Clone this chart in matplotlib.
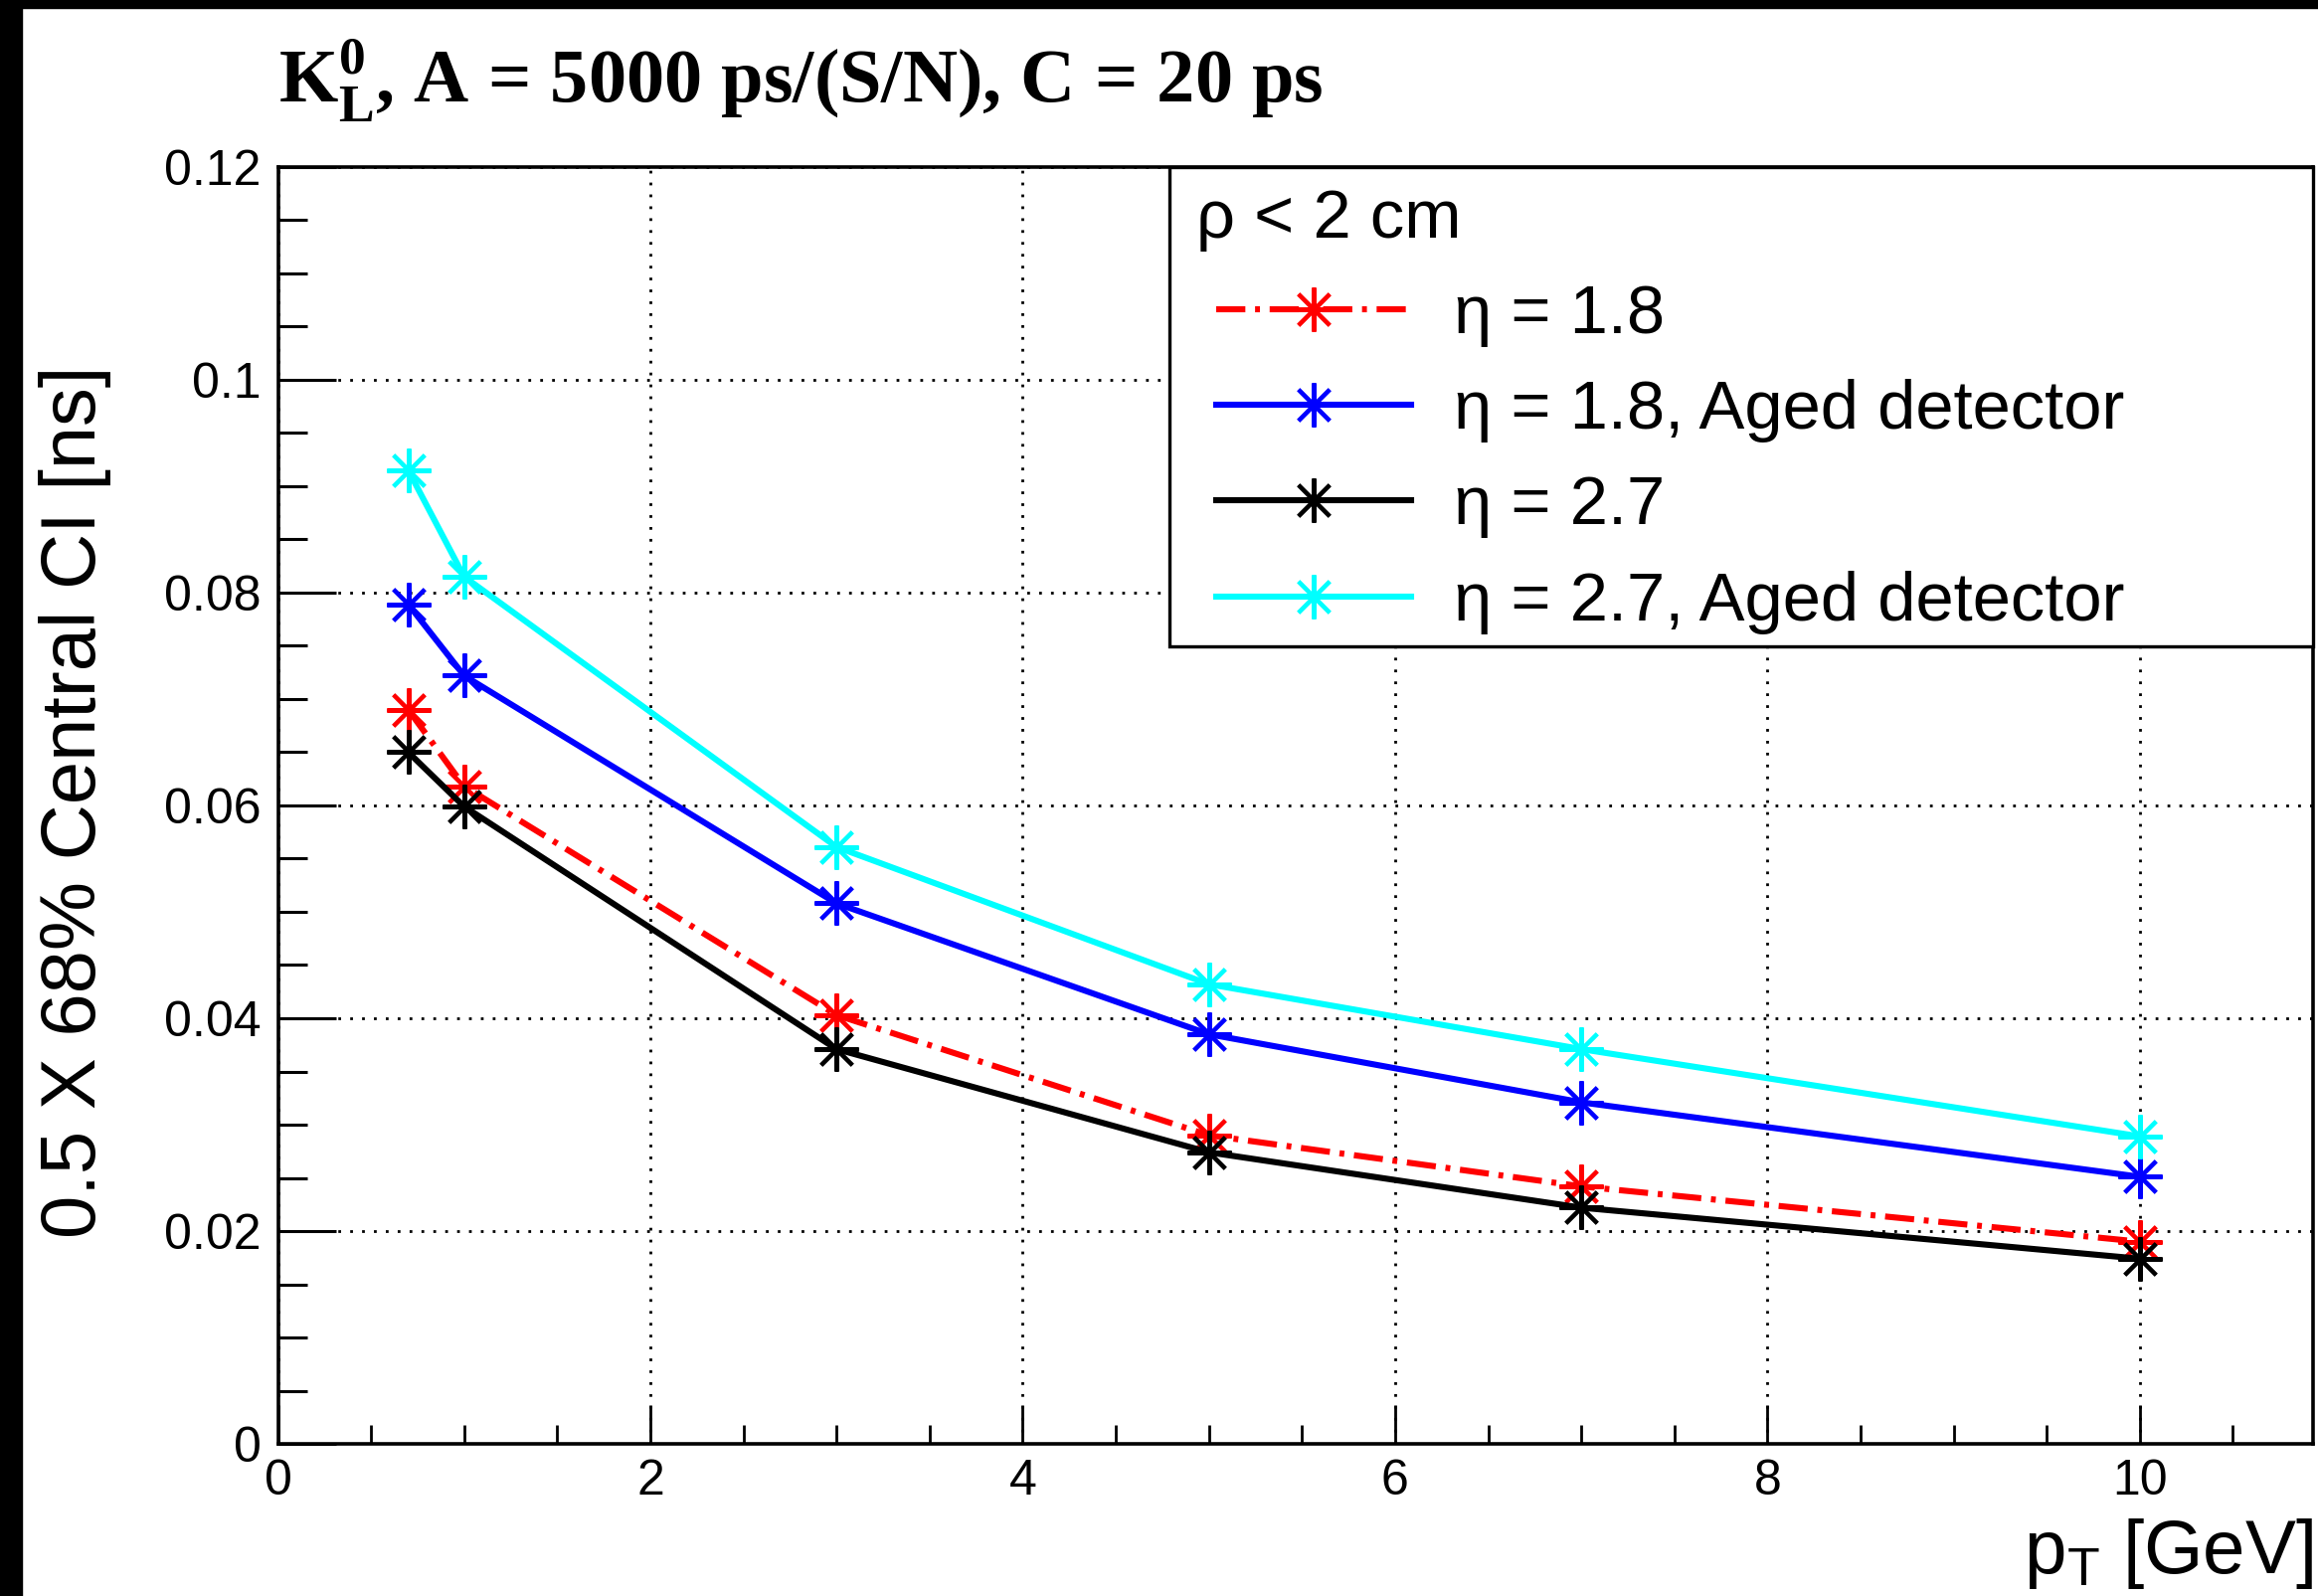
import matplotlib
matplotlib.use("Agg")
import matplotlib.pyplot as plt
from matplotlib.patches import Rectangle
from matplotlib.ticker import MultipleLocator

plt.rcParams['font.family'] = ['Liberation Sans', 'DejaVu Sans']
plt.rcParams['mathtext.fontset'] = 'custom'
plt.rcParams['mathtext.rm'] = 'Liberation Sans'
plt.rcParams['mathtext.it'] = 'Liberation Sans'
plt.rcParams['mathtext.bf'] = 'Liberation Serif:bold'

# data
pt = [0.7, 1, 3, 5, 7, 10]
eta18 = [0.0690, 0.0618, 0.0403, 0.0290, 0.0242, 0.0190]
eta18_aged = [0.0789, 0.0722, 0.0508, 0.0385, 0.0321, 0.0251]
eta27 = [0.0650, 0.0599, 0.0371, 0.0274, 0.0222, 0.0174]
eta27_aged = [0.0915, 0.0815, 0.0561, 0.0432, 0.0371, 0.0289]
labels = ["η = 1.8", "η = 1.8, Aged detector", "η = 2.7", "η = 2.7, Aged detector"]
colors = ["#ff0000", "#0000ff", "#000000", "#00ffff"]
ytick_vals = [0, 0.02, 0.04, 0.06, 0.08, 0.1, 0.12]
ytick_labels = ["0", "0.02", "0.04", "0.06", "0.08", "0.1", "0.12"]
xtick_vals = [0, 2, 4, 6, 8, 10]

W, H = 2331, 1605
fig = plt.figure(figsize=(W / 100, H / 100), dpi=100)
ax = fig.add_axes([279.5 / W, 153 / H, 2046.5 / W, 1284 / H])

mk = (8, 2, 0)
series = [eta18, eta18_aged, eta27, eta27_aged]
styles = [(0, (4.8, 1.6, 0.8, 1.6)), '-', '-', '-']
handles = []
for y, c, ls, lab in zip(series, colors, styles, labels):
    h, = ax.plot(pt, y, color=c, ls=ls, lw=4.4, marker=mk, ms=32, mew=2.9,
                 mec=c, label=lab, zorder=3)
    handles.append(h)

ax.set_xlim(0, 10.93)
ax.set_ylim(0, 0.12)
ax.set_xticks(xtick_vals)
ax.set_xticklabels([str(v) for v in xtick_vals])
ax.xaxis.set_minor_locator(MultipleLocator(0.5))
ax.set_yticks(ytick_vals)
ax.set_yticklabels(ytick_labels)
ax.yaxis.set_minor_locator(MultipleLocator(0.005))

ax.tick_params(axis='both', which='both', direction='in', labelsize=36)
ax.tick_params(axis='y', which='major', length=42, width=2.2, pad=12)
ax.tick_params(axis='y', which='minor', length=21, width=2.2)
ax.tick_params(axis='x', which='major', length=28, width=2.0, pad=11)
ax.tick_params(axis='x', which='minor', length=14, width=2.0)

for s in ax.spines.values():
    s.set_linewidth(2.6)

ax.grid(True, which='major', color='black', lw=2.0, ls=(0, (1, 3.3)))
ax.set_axisbelow(True)

ax.set_ylabel("0.5 X 68% Central CI [ns]", fontsize=56, labelpad=38)
ax.yaxis.label.set_y(0.5 + 4 / 1284)
ax.text(1.0, (1452 - 1582) / 1284, r"p$_{\mathrm{T}}$ [GeV]", fontsize=55,
        ha='right', va='baseline', transform=ax.transAxes)

# legend box: white fill hides the grid, as in the reference
ax.add_patch(Rectangle((0.438, 0.6246), 0.562, 0.3754, transform=ax.transAxes,
                       fc='white', lw=2.4, ec='black', clip_on=False, zorder=4.5))
leg = ax.legend(handles=handles, loc='upper left', bbox_to_anchor=(0.461, 0.984),
                borderaxespad=0, borderpad=0, frameon=False, fontsize=49.5,
                title="ρ < 2 cm", title_fontsize=49.5, alignment='left',
                handlelength=2.85, handletextpad=0.63, labelspacing=0.47,
                numpoints=1)
leg.set_zorder(6)
leg.get_title().set_x(-20)

fig.text(280 / W, 1 - 103 / H,
         r"$\mathbf{K}_{\mathbf{L}}^{\mathbf{0}}$, A = 5000 ps/(S/N), C = 20 ps",
         family='Liberation Serif', weight='bold', fontsize=55, va='baseline')

# dark border strips on the left and top edges
fig.patches.append(Rectangle((0, 0), 22 / W, 1, transform=fig.transFigure,
                             color='black', zorder=10))
fig.patches.append(Rectangle((0, 1 - 8 / H), 1, 8 / H, transform=fig.transFigure,
                             color='black', zorder=10))

fig.savefig("out.png", dpi=100)
